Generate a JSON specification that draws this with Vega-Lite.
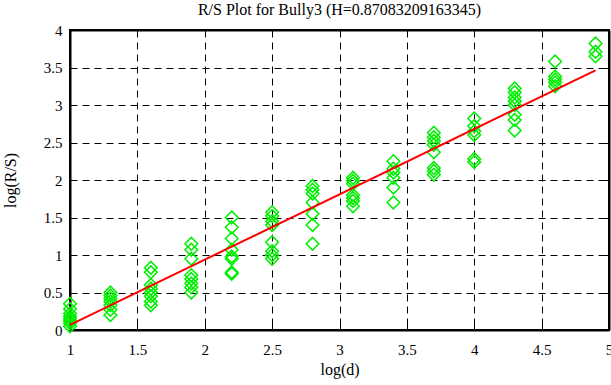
{
  "$schema": "https://vega.github.io/schema/vega-lite/v6.json",
  "width": 539,
  "height": 300,
  "autosize": "none",
  "padding": {"left": 70, "top": 30, "right": 2, "bottom": 55},
  "background": "white",
  "config": {
    "font": "Liberation Serif",
    "view": {"stroke": "black", "strokeWidth": 2},
    "axis": {
      "labelFont": "Liberation Serif", "titleFont": "Liberation Serif",
      "labelFontSize": 15, "titleFontSize": 16, "titleFontWeight": "normal",
      "labelColor": "black", "titleColor": "black", "labelFlush": false,
      "domainColor": "black", "domainWidth": 2,
      "tickColor": "black", "tickWidth": 1, "tickSize": -6,
      "gridColor": "black", "gridOpacity": 1, "gridDash": [7, 5], "gridWidth": 1
    }
  },
  "title": {"text": "R/S Plot for Bully3 (H=0.87083209163345)", "font": "Liberation Serif", "fontSize": 16, "fontWeight": "normal", "color": "black", "offset": 5},
  "datasets": {
    "pts": [
      {"d": 1.0, "rs": 0.35}, {"d": 1.0, "rs": 0.28}, {"d": 1.0, "rs": 0.22}, {"d": 1.0, "rs": 0.18}, {"d": 1.0, "rs": 0.15}, {"d": 1.0, "rs": 0.12}, {"d": 1.0, "rs": 0.09}, {"d": 1.0, "rs": 0.05},
      {"d": 1.3, "rs": 0.5}, {"d": 1.3, "rs": 0.46}, {"d": 1.3, "rs": 0.42}, {"d": 1.3, "rs": 0.38}, {"d": 1.3, "rs": 0.33}, {"d": 1.3, "rs": 0.27}, {"d": 1.3, "rs": 0.2},
      {"d": 1.6, "rs": 0.83}, {"d": 1.6, "rs": 0.77}, {"d": 1.6, "rs": 0.6}, {"d": 1.6, "rs": 0.55}, {"d": 1.6, "rs": 0.5}, {"d": 1.6, "rs": 0.45}, {"d": 1.6, "rs": 0.38}, {"d": 1.6, "rs": 0.33},
      {"d": 1.9, "rs": 1.15}, {"d": 1.9, "rs": 1.07}, {"d": 1.9, "rs": 0.95}, {"d": 1.9, "rs": 0.73}, {"d": 1.9, "rs": 0.68}, {"d": 1.9, "rs": 0.62}, {"d": 1.9, "rs": 0.57}, {"d": 1.9, "rs": 0.5},
      {"d": 2.2, "rs": 1.5}, {"d": 2.2, "rs": 1.37}, {"d": 2.2, "rs": 1.22}, {"d": 2.2, "rs": 1.07}, {"d": 2.2, "rs": 0.98}, {"d": 2.2, "rs": 0.95}, {"d": 2.2, "rs": 0.77}, {"d": 2.2, "rs": 0.75},
      {"d": 2.5, "rs": 1.57}, {"d": 2.5, "rs": 1.52}, {"d": 2.5, "rs": 1.45}, {"d": 2.5, "rs": 1.4}, {"d": 2.5, "rs": 1.17}, {"d": 2.5, "rs": 1.05}, {"d": 2.5, "rs": 1.0}, {"d": 2.5, "rs": 0.95},
      {"d": 2.8, "rs": 1.92}, {"d": 2.8, "rs": 1.87}, {"d": 2.8, "rs": 1.82}, {"d": 2.8, "rs": 1.7}, {"d": 2.8, "rs": 1.55}, {"d": 2.8, "rs": 1.4}, {"d": 2.8, "rs": 1.15},
      {"d": 3.1, "rs": 2.03}, {"d": 3.1, "rs": 1.99}, {"d": 3.1, "rs": 1.95}, {"d": 3.1, "rs": 1.8}, {"d": 3.1, "rs": 1.76}, {"d": 3.1, "rs": 1.72}, {"d": 3.1, "rs": 1.65},
      {"d": 3.4, "rs": 2.25}, {"d": 3.4, "rs": 2.15}, {"d": 3.4, "rs": 2.1}, {"d": 3.4, "rs": 2.03}, {"d": 3.4, "rs": 1.9}, {"d": 3.4, "rs": 1.7},
      {"d": 3.7, "rs": 2.63}, {"d": 3.7, "rs": 2.57}, {"d": 3.7, "rs": 2.52}, {"d": 3.7, "rs": 2.47}, {"d": 3.7, "rs": 2.37}, {"d": 3.7, "rs": 2.16}, {"d": 3.7, "rs": 2.12}, {"d": 3.7, "rs": 2.07},
      {"d": 4.0, "rs": 2.82}, {"d": 4.0, "rs": 2.72}, {"d": 4.0, "rs": 2.65}, {"d": 4.0, "rs": 2.6}, {"d": 4.0, "rs": 2.28}, {"d": 4.0, "rs": 2.24},
      {"d": 4.3, "rs": 3.22}, {"d": 4.3, "rs": 3.17}, {"d": 4.3, "rs": 3.1}, {"d": 4.3, "rs": 3.05}, {"d": 4.3, "rs": 3.0}, {"d": 4.3, "rs": 2.87}, {"d": 4.3, "rs": 2.8}, {"d": 4.3, "rs": 2.66},
      {"d": 4.6, "rs": 3.58}, {"d": 4.6, "rs": 3.38}, {"d": 4.6, "rs": 3.34}, {"d": 4.6, "rs": 3.3}, {"d": 4.6, "rs": 3.25},
      {"d": 4.9, "rs": 3.82}, {"d": 4.9, "rs": 3.71}, {"d": 4.9, "rs": 3.65}
    ],
    "fit": [
      {"d": 1.0, "rs": 0.067},
      {"d": 4.9, "rs": 3.463}
    ]
  },
  "layer": [
    {
      "data": {"name": "pts"},
      "mark": {"type": "point", "shape": "diamond", "size": 160, "filled": false, "color": "#00ee00", "strokeWidth": 1.5, "opacity": 1},
      "encoding": {
        "x": {"field": "d", "type": "quantitative", "scale": {"domain": [1, 5], "nice": false, "zero": false},
              "axis": {"title": "log(d)", "values": [1, 1.5, 2, 2.5, 3, 3.5, 4, 4.5, 5], "labelExpr": "toString(datum.value)", "labelFlush": false, "labelPadding": 18, "titlePadding": 4, "grid": true,
                       "encode": {"labels": {"update": {"font": {"value": "Liberation Serif"}, "fontSize": {"value": 15}}}}}},
        "y": {"field": "rs", "type": "quantitative", "scale": {"domain": [0, 4], "nice": false, "zero": false},
              "axis": {"title": "log(R/S)", "values": [0, 0.5, 1, 1.5, 2, 2.5, 3, 3.5, 4], "labelExpr": "toString(datum.value)", "labelFlush": false, "labelPadding": 14, "titlePadding": 25, "grid": true,
                       "encode": {"labels": {"update": {"font": {"value": "Liberation Serif"}, "fontSize": {"value": 15}}}}}}
      }
    },
    {
      "data": {"name": "fit"},
      "mark": {"type": "line", "color": "#ff0000", "strokeWidth": 2},
      "encoding": {
        "x": {"field": "d", "type": "quantitative", "axis": {"orient": "top", "labels": false, "title": null, "grid": false, "values": [1, 1.5, 2, 2.5, 3, 3.5, 4, 4.5, 5]}},
        "y": {"field": "rs", "type": "quantitative", "axis": {"orient": "right", "labels": false, "title": null, "grid": false, "values": [0, 0.5, 1, 1.5, 2, 2.5, 3, 3.5, 4]}}
      }
    }
  ],
  "resolve": {"axis": {"x": "independent", "y": "independent"}}
}
